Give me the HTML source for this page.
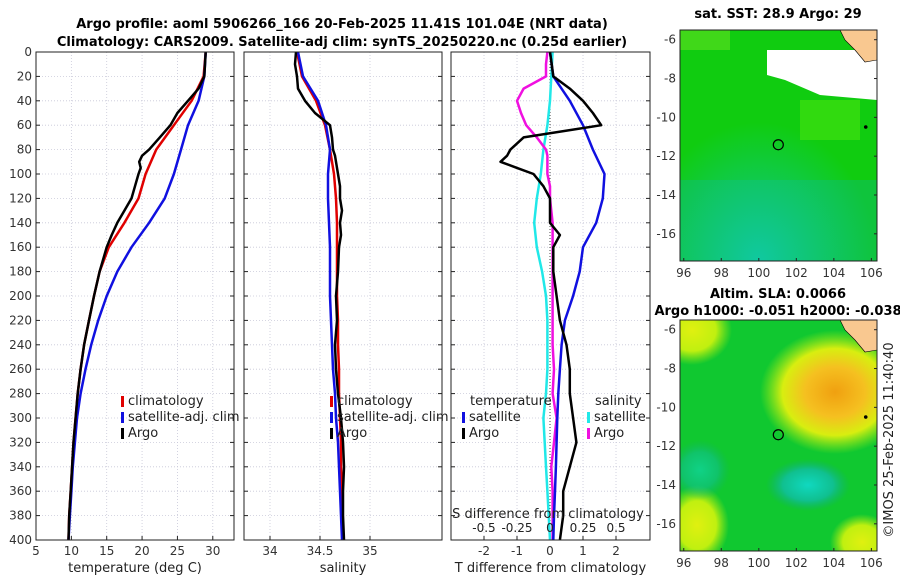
<!DOCTYPE html>
<html><head><meta charset="utf-8"><style>
body{margin:0;background:#fff;}
svg{display:block;font-family:"DejaVu Sans","Liberation Sans",sans-serif;}
</style></head><body>
<svg id="fig" width="900" height="580" viewBox="0 0 900 580">
<defs>
<clipPath id="clipTop"><rect x="680" y="30" width="197" height="231"/></clipPath>
<clipPath id="clipBot"><rect x="680" y="320" width="197" height="231"/></clipPath>
<radialGradient id="sstTeal" cx="0.4" cy="1" r="0.6"><stop offset="0" stop-color="#10c8a0"/><stop offset="1" stop-color="#10c8a0" stop-opacity="0"/></radialGradient>
<radialGradient id="slaOrange" cx="0.5" cy="0.5" r="0.5"><stop offset="0" stop-color="#f0a010"/><stop offset="0.4" stop-color="#f5c020"/><stop offset="0.7" stop-color="#d8ee10"/><stop offset="1" stop-color="#a8ec10" stop-opacity="0"/></radialGradient>
<radialGradient id="slaYellow" cx="0.5" cy="0.5" r="0.5"><stop offset="0" stop-color="#e0f010"/><stop offset="0.6" stop-color="#c0f010"/><stop offset="1" stop-color="#a0e810" stop-opacity="0"/></radialGradient>
<radialGradient id="slaCyan" cx="0.5" cy="0.5" r="0.5"><stop offset="0" stop-color="#10d8c0"/><stop offset="0.6" stop-color="#10c090"/><stop offset="1" stop-color="#10b070" stop-opacity="0"/></radialGradient>
</defs>
<g id="titles" font-weight="bold" font-size="13">
<text x="342" y="28" text-anchor="middle">Argo profile: aoml 5906266_166 20-Feb-2025 11.41S 101.04E (NRT data)</text>
<text x="342" y="46" text-anchor="middle">Climatology: CARS2009. Satellite-adj clim: synTS_20250220.nc (0.25d earlier)</text>
</g>
<g id="panels"></g>
<g id="maps"></g>
</svg>
<script>
const NS="http://www.w3.org/2000/svg";
const depths=[0,20,40,60,80,100,120,140,160,180,200,220,240,260,280,300,320,340,360,380,400];
const tempClim=[29,28.7,27,24.5,22,20.5,19.5,17.5,15.3,14,13.2,12.5,11.8,11.3,10.9,10.6,10.3,10.1,9.9,9.7,9.6];
const tempSat=[29,28.8,28,26.5,25.5,24.5,23.2,21,18.5,16.5,15,13.8,12.8,12,11.3,10.8,10.5,10.2,10,9.8,9.6];
const argoDepths=[0,10,20,30,40,50,60,70,80,85,90,95,100,110,120,130,140,150,160,180,200,220,240,260,280,300,320,340,360,380,400];
const tempArgo=[29,28.9,28.8,28,26.5,25,24,22.5,21,20,19.6,19.8,19.5,19,18.5,17.5,16.5,15.7,15,14,13.2,12.5,11.8,11.3,10.9,10.6,10.3,10.1,9.9,9.7,9.6];
const salClim=[34.27,34.32,34.46,34.55,34.6,34.64,34.66,34.67,34.67,34.67,34.67,34.68,34.68,34.69,34.69,34.7,34.71,34.71,34.72,34.72,34.73];
const salSat=[34.28,34.33,34.48,34.56,34.6,34.58,34.58,34.59,34.6,34.6,34.6,34.61,34.62,34.63,34.65,34.66,34.68,34.69,34.7,34.71,34.72];
const salArgo=[34.26,34.25,34.27,34.28,34.35,34.45,34.6,34.62,34.63,34.65,34.66,34.67,34.68,34.7,34.7,34.72,34.7,34.71,34.69,34.68,34.66,34.67,34.65,34.66,34.68,34.71,34.73,34.74,34.73,34.73,34.74];
const tDiffSat=[0,0.1,0.6,1.0,1.3,1.65,1.6,1.4,1.0,0.9,0.7,0.45,0.35,0.3,0.25,0.22,0.2,0.18,0.15,0.12,0.1];
const tDiffArgo=[0,0.05,0.1,0.6,1.0,1.3,1.55,-0.8,-1.2,-1.3,-1.5,-1.0,-0.5,-0.2,0,0,0,0.3,0.1,0.1,0.2,0.3,0.5,0.6,0.6,0.7,0.8,0.6,0.4,0.4,0.3];
const sDiffSat=[0.02,0.01,0,-0.02,-0.05,-0.07,-0.1,-0.12,-0.1,-0.06,-0.03,-0.02,-0.02,-0.02,-0.03,-0.05,-0.04,-0.03,-0.02,-0.01,0];
const sDiffArgo=[-0.02,-0.03,-0.03,-0.2,-0.25,-0.22,-0.18,-0.1,-0.03,-0.02,-0.02,-0.02,-0.02,0,0,0.01,0.02,0.02,0.02,0.02,0.02,0.02,0.02,0.03,0.02,0.05,0.03,0.01,0.02,0.02,0.02];
const depthTicks=[0,20,40,60,80,100,120,140,160,180,200,220,240,260,280,300,320,340,360,380,400];
const tempTicks=[5,10,15,20,25,30];
const salTicks=[34,34.5,35];
const tDiffTicks=[-2,-1,0,1,2];
const sDiffTicks=[-0.5,-0.25,0,0.25,0.5];
const sDiffLabels=['-0.5','-0.25','0','0.25','0.5'];
const lonTicks=[96,98,100,102,104,106];
const latTicks=[-6,-8,-10,-12,-14,-16];

const Y0=52,Y1=540;
const yS=d=>Y0+(d/400)*(Y1-Y0);
function el(tag,attrs,parent,txt){const e=document.createElementNS(NS,tag);for(const k in attrs)e.setAttribute(k,attrs[k]);if(txt!==undefined)e.textContent=txt;parent.appendChild(e);return e;}
const panels=document.getElementById('panels');

function panel(name,x0,x1,dmin,dmax,ticks,xlabel,showY){
  const g=el('g',{},panels);
  
  
  const xs=v=>x0+(v-dmin)/(dmax-dmin)*(x1-x0);
  depthTicks.forEach(d=>{const l=el('line',{x1:x0,x2:x1,y1:yS(d),y2:yS(d),stroke:'#c8c8d8','stroke-width':0.8,'stroke-dasharray':'1,2'},g);
    });
  ticks.forEach(t=>{const l=el('line',{x1:xs(t),x2:xs(t),y1:Y0,y2:Y1,stroke:'#c8c8d8','stroke-width':0.8,'stroke-dasharray':'1,2'},g);
    
    const tx=el('text',{x:xs(t),y:Y1+15,'text-anchor':'middle','font-size':12,fill:'#333'},g,String(t));
    
    el('line',{x1:xs(t),x2:xs(t),y1:Y1,y2:Y1-4,stroke:'#222'},g);});
  if(showY) depthTicks.forEach(d=>{const tx=el('text',{x:x0-4,y:yS(d)+4,'text-anchor':'end','font-size':12,fill:'#333'},g,String(d));
    });
  depthTicks.forEach(d=>{el('line',{x1:x0,x2:x0+4,y1:yS(d),y2:yS(d),stroke:'#222'},g);el('line',{x1:x1,x2:x1-4,y1:yS(d),y2:yS(d),stroke:'#222'},g);});
  if(xlabel){const tx=el('text',{x:(x0+x1)/2,y:Y1+32,'text-anchor':'middle','font-size':13,fill:'#222'},g,xlabel);
    }
  return {g,xs};
}
function line(p,vals,dep,color,name,w){
  const d=vals.map((v,i)=>(i?'L':'M')+p.xs(v).toFixed(1)+','+yS(dep[i]).toFixed(1)).join('');
  const l=el('path',{d,fill:'none',stroke:color,'stroke-width':w||2.5,'stroke-linejoin':'round'},p.g);
  
}
function frame(p,x0,x1){el('rect',{x:x0,y:Y0,width:x1-x0,height:Y1-Y0,fill:'none',stroke:'#222','stroke-width':1},p.g);}
function legend(g,x,y,items){items.forEach((it,i)=>{
  el('rect',{x:x,y:y+i*16-9,width:3,height:11,fill:it[1]},g);
  const t=el('text',{x:x+7,y:y+i*16,'font-size':13,fill:'#222'},g,it[0]);
  });}

const p1=panel('temperature-panel',36,234,5,33,tempTicks,'temperature (deg C)',true);
line(p1,tempClim,depths,'#e00000','clim-temp-line');
line(p1,tempSat,depths,'#1010e0','sat-temp-line');
line(p1,tempArgo,argoDepths,'#000','argo-temp-line');
frame(p1,36,234);
legend(p1.g,121,405,[['climatology','#e00000'],['satellite-adj. clim','#1010e0'],['Argo','#000']]);

const p2=panel('salinity-panel',244,442,33.74,35.72,salTicks,'salinity',false);
line(p2,salClim,depths,'#e00000','clim-sal-line');
line(p2,salSat,depths,'#1010e0','sat-sal-line');
line(p2,salArgo,argoDepths,'#000','argo-sal-line');
frame(p2,244,442);
legend(p2.g,330,405,[['climatology','#e00000'],['satellite-adj. clim','#1010e0'],['Argo','#000']]);

const p3=panel('difference-panel',451,650,-3,3.03,tDiffTicks,'T difference from climatology',false);
const sx=v=>p3.xs(v*4);
el('line',{x1:p3.xs(0),x2:p3.xs(0),y1:Y0,y2:Y1,stroke:'#444','stroke-width':1,'stroke-dasharray':'1,2'},p3.g);
line(p3,sDiffSat.map(v=>v*4),depths,'#20e8e8','sat-sal-diff-line');
line(p3,sDiffArgo.map(v=>v*4),argoDepths,'#f010e0','argo-sal-diff-line');
line(p3,tDiffSat,depths,'#1010e0','sat-temp-diff-line');
line(p3,tDiffArgo,argoDepths,'#000','argo-temp-diff-line');
frame(p3,451,650);
sDiffTicks.forEach((t,i)=>{const tx=el('text',{x:sx(t),y:532,'text-anchor':'middle','font-size':12,fill:'#222'},p3.g,sDiffLabels[i]);
  });
{const tx=el('text',{x:548,y:518,'text-anchor':'middle','font-size':13,fill:'#222'},p3.g,'S difference from climatology');
 }
el('text',{x:470,y:405,'font-size':13,fill:'#222'},p3.g,'temperature');
legend(p3.g,462,421,[['satellite','#1010e0'],['Argo','#000']]);
el('text',{x:595,y:405,'font-size':13,fill:'#222'},p3.g,'salinity');
legend(p3.g,587,421,[['satellite','#20e8e8'],['Argo','#f010e0']]);

const maps=document.getElementById('maps');
function map(name,y0,title1,title2,kind,clip){
  const g=el('g',{},maps);
  
  const x0=680,x1=877,y1=y0+231;
  const lx=l=>x0+(l-95.8)/(106.3-95.8)*(x1-x0);
  const ly=l=>y0+(-5.5-l)/(17.4-5.5)*(y1-y0);
  const c0=el('g',{'clip-path':'url(#'+clip+')'},g);
  if(kind==='sst'){
    el('rect',{x:x0,y:y0,width:x1-x0,height:y1-y0,fill:'#10cc10'},c0);
    el('rect',{x:x0,y:y0+150,width:x1-x0,height:81,fill:'#10c050',opacity:0.7},c0);
    el('rect',{x:x0,y:y0,width:x1-x0,height:y1-y0,fill:'url(#sstTeal)'},c0);
    el('rect',{x:x0,y:y0,width:50,height:20,fill:'#60e020',opacity:0.6},c0);
    el('rect',{x:800,y:y0+70,width:60,height:40,fill:'#40e010',opacity:0.7},c0);
    el('path',{d:`M767,${y0+20}L877,${y0+20}L877,${y0+70}L820,${y0+65}L785,${y0+50}L767,${y0+45}Z`,fill:'#fff'},c0);
  } else {
    el('rect',{x:x0,y:y0,width:x1-x0,height:y1-y0,fill:'#10c830'},c0);
    el('ellipse',{cx:835,cy:y0+72,rx:75,ry:62,fill:'url(#slaOrange)'},c0);
    el('ellipse',{cx:692,cy:y0+10,rx:40,ry:35,fill:'url(#slaYellow)'},c0);
    el('ellipse',{cx:697,cy:y0+205,rx:32,ry:40,fill:'url(#slaYellow)'},c0);
    el('ellipse',{cx:862,cy:y0+222,rx:32,ry:28,fill:'url(#slaYellow)'},c0);
    el('ellipse',{cx:808,cy:y0+165,rx:42,ry:26,fill:'url(#slaCyan)'},c0);
    el('ellipse',{cx:700,cy:y0+150,rx:30,ry:30,fill:'url(#slaCyan)',opacity:0.6},c0);
  }
  el('path',{d:`M840,${y0}L877,${y0}L877,${y0+30}L865,${y0+32}L855,${y0+20}L845,${y0+10}Z`,fill:'#f9c890',stroke:'#000','stroke-width':0.6},c0);
  const c=el('circle',{cx:lx(101.04),cy:ly(-11.41),r:5,fill:'none',stroke:'#000','stroke-width':1.2},g);
  
  el('circle',{cx:lx(105.7),cy:ly(-10.5),r:1.8,fill:'#000'},g);
  el('rect',{x:x0,y:y0,width:x1-x0,height:y1-y0,fill:'none',stroke:'#222'},g);
  lonTicks.forEach(l=>{const t=el('text',{x:lx(l),y:y1+16,'text-anchor':'middle','font-size':12,fill:'#333'},g,String(l));
    
    el('line',{x1:lx(l),x2:lx(l),y1:y1,y2:y1-3,stroke:'#222'},g);});
  latTicks.forEach(l=>{const t=el('text',{x:x0-4,y:ly(l)+4,'text-anchor':'end','font-size':12,fill:'#333'},g,String(l));
    
    el('line',{x1:x1,x2:x1-3,y1:ly(l),y2:ly(l),stroke:'#222'},g);});
  const t1=el('text',{x:778,y:title2?y0-22:y0-12,'text-anchor':'middle','font-size':13,'font-weight':'bold'},g,title1);
  
  if(title2){const t2=el('text',{x:778,y:y0-5,'text-anchor':'middle','font-size':13,'font-weight':'bold'},g,title2);
    }
}
map('sst-map',30,'sat. SST: 28.9 Argo: 29',null,'sst','clipTop');
map('sla-map',320,'Altim. SLA: 0.0066','Argo h1000: -0.051 h2000: -0.038','sla','clipBot');
const cr=el('text',{transform:'translate(893,440) rotate(-90)','text-anchor':'middle','font-size':13,fill:'#222'},maps,'©IMOS 25-Feb-2025 11:40:40');

</script>
</body></html>
